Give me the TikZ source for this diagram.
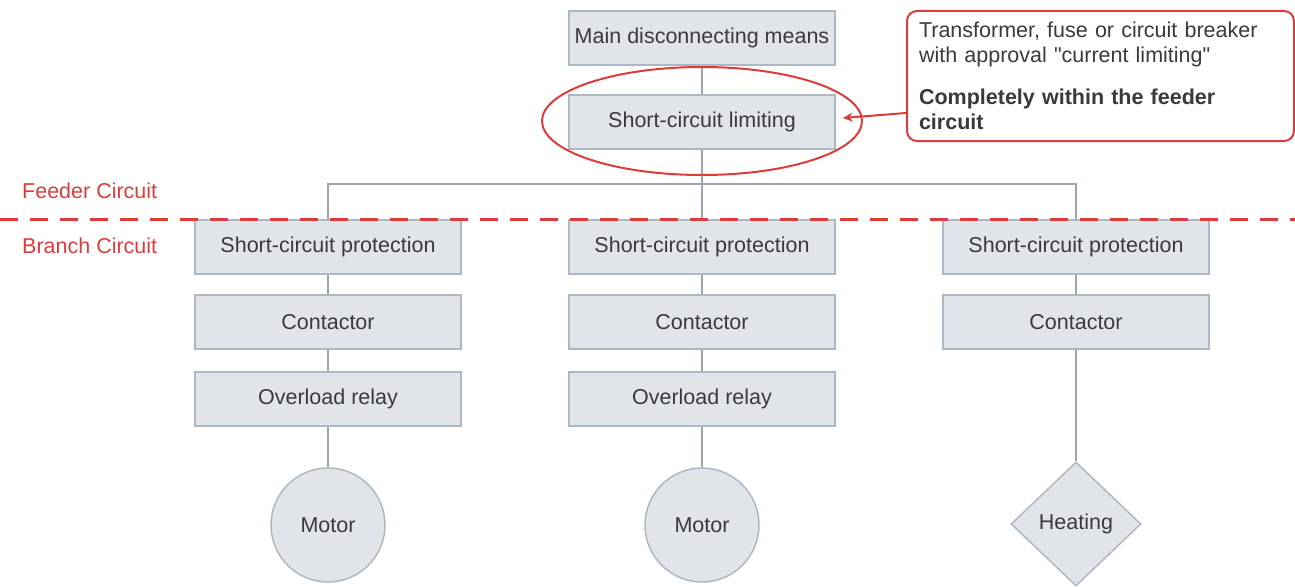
\documentclass[tikz,border=0pt]{standalone}
\usepackage{fontspec}
\setmainfont{Liberation Sans}[Ligatures=TeXOff]
\usetikzlibrary{shapes.geometric,arrows.meta}
\definecolor{boxfill}{HTML}{E1E5EA}
\definecolor{boxline}{HTML}{AEB8C2}
\definecolor{wirec}{HTML}{9CA5AE}
\definecolor{myred}{HTML}{DC3C3C}
\definecolor{txt}{HTML}{3A3A3A}
\begin{document}
\begin{tikzpicture}[x=1pt,y=-1pt,
  every node/.style={font=\fontsize{21.5}{25}\selectfont, text=txt},
  blk/.style={draw=boxline, fill=boxfill, line width=1.5pt, minimum width=266pt, minimum height=54pt, inner sep=0pt},
  rnd/.style={circle, draw=boxline, fill=boxfill, line width=1.5pt, minimum size=114pt, inner sep=0pt},
  dia/.style={diamond, draw=boxline, fill=boxfill, line width=1.5pt, minimum width=130pt, minimum height=124pt, inner sep=0pt},
  wire/.style={draw=wirec, line width=2pt},
  lbl/.style={text=myred, anchor=west, inner sep=0pt},
  redline/.style={draw=myred, line width=2pt},
]
\useasboundingbox (0,0) rectangle (1295,586);
% top
\node[blk] (main) at (702,38) {Main disconnecting means};
\node[blk] (scl) at (702,122) {Short-circuit limiting};
% branch 1
\node[blk] (p1) at (328,247) {Short-circuit protection};
\node[blk] (c1) at (328,322) {Contactor};
\node[blk] (o1) at (328,399) {Overload relay};
\node[rnd] (m1) at (328,525) {Motor};
% branch 2
\node[blk] (p2) at (702,247) {Short-circuit protection};
\node[blk] (c2) at (702,322) {Contactor};
\node[blk] (o2) at (702,399) {Overload relay};
\node[rnd] (m2) at (702,525) {Motor};
% branch 3
\node[blk] (p3) at (1076,247) {Short-circuit protection};
\node[blk] (c3) at (1076,322) {Contactor};
\node[dia] (h3) at (1076,524) {Heating};
% wires
\coordinate (bus) at (702,184);
\draw[wire] (main.south) -- (scl.north);
\draw[wire] (scl.south) -- (p2.north);
\draw[wire] (p1.north) |- (bus) -| (p3.north);
\draw[wire] (p1.south) -- (c1.north);
\draw[wire] (c1.south) -- (o1.north);
\draw[wire] (o1.south) -- (m1.north);
\draw[wire] (p2.south) -- (c2.north);
\draw[wire] (c2.south) -- (o2.north);
\draw[wire] (o2.south) -- (m2.north);
\draw[wire] (p3.south) -- (c3.north);
\draw[wire] (c3.south) -- (h3.north);
% feeder/branch separation
\coordinate (dl) at (0,219);
\coordinate (dr) at (1295,219);
\draw[draw=myred, line width=3pt, dash pattern=on 18pt off 12pt] (dl) -- (dr);
\node[lbl] (feeder) at (22,191) {Feeder Circuit};
\node[lbl] (branch) at (22,246) {Branch Circuit};
% highlight
\node[ellipse, redline, minimum width=320pt, minimum height=108pt] (ell) at (702,121) {};
\node[redline, rounded corners=10pt, fill=white, text width=363pt, align=left, inner xsep=12pt, inner ysep=0pt, minimum height=130pt, anchor=north west] (note) at (906,10)
  {Transformer, fuse or circuit breaker\\with approval "current limiting"\\[17pt]\textbf{Completely within the feeder}\\\textbf{circuit}};
\draw[redline, -{Stealth[length=10pt,width=9pt]}] ([yshift=-37pt]note.west) -- ([xshift=7pt,yshift=4pt]scl.east);
\end{tikzpicture}
\end{document}
